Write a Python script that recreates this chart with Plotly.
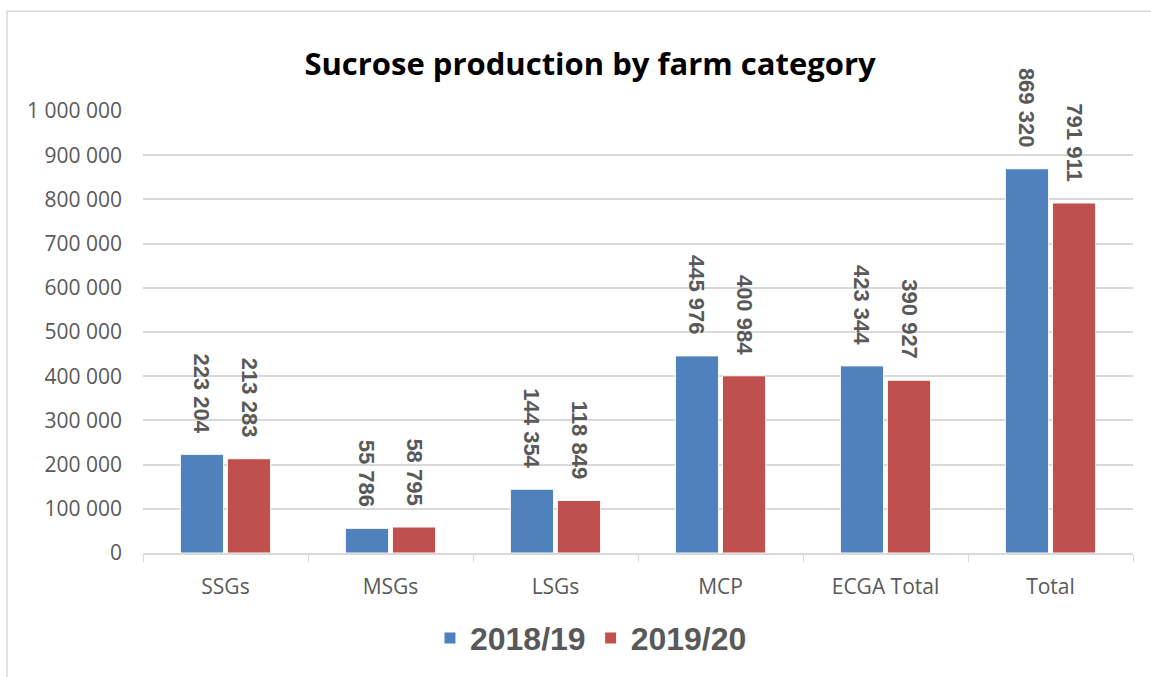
import plotly.graph_objects as go

categories = ["SSGs", "MSGs", "LSGs", "MCP", "ECGA Total", "Total"]
season_2018_19 = [223204, 55786, 144354, 445976, 423344, 869320]
season_2019_20 = [213283, 58795, 118849, 400984, 390927, 791911]
y_ticks = [0, 100000, 200000, 300000, 400000, 500000, 600000, 700000, 800000, 900000, 1000000]


def fmt(v):
    # space as thousands separator; trailing no-break spaces keep the
    # rotated label clear of the bar top
    return f"{v:,}".replace(",", " ") + "\u00a0\u00a0\u00a0"


label_font = dict(family="Liberation Sans, Arial", size=22, color="#595959", weight="bold")

fig = go.Figure()
for name, vals, color in [
    ("2018/19", season_2018_19, "#4F81BD"),
    ("2019/20", season_2019_20, "#C0504D"),
]:
    fig.add_trace(go.Bar(
        x=categories, y=vals, name=name,
        marker=dict(color=color, line=dict(color="white", width=1)),
        text=[fmt(v) for v in vals],
        textposition="outside", textangle=90, constraintext="none",
        textfont=label_font, cliponaxis=False,
    ))

fig.update_layout(
    width=1151, height=677,
    paper_bgcolor="white", plot_bgcolor="white",
    margin=dict(l=143, r=18, t=111, b=123),
    separators=". ",
    barmode="group", bargap=0.43, bargroupgap=0.08,
    title=dict(text="<b>Sucrose production by farm category</b>",
               x=590/1151, xanchor="center", y=0.905, yanchor="middle",
               font=dict(family="Open Sans, Lato, sans-serif", size=31, color="black")),
    legend=dict(orientation="h", x=0.4525, xanchor="center", y=-0.19, yanchor="middle",
                font=dict(family="Liberation Sans, Arial", size=32, color="#595959",
                          weight="bold"),
                itemwidth=30, traceorder="normal"),
    xaxis=dict(showline=True, linecolor="#d9d9d9", linewidth=1.5,
               ticks="outside", tickson="boundaries", ticklen=7, tickcolor="#d9d9d9",
               ticklabelstandoff=14,
               tickfont=dict(family="Open Sans, sans-serif", size=21, color="#595959")),
    yaxis=dict(range=[0, 1000000], tickvals=y_ticks, tickformat=",d",
               showgrid=True, gridcolor="#d9d9d9", gridwidth=1.5, zeroline=False,
               ticks="", ticklabelstandoff=20,
               tickfont=dict(family="Open Sans, sans-serif", size=21, color="#595959")),
    shapes=[dict(type="rect", xref="paper", yref="paper",
                 x0=-136/990, x1=1.05, y0=-0.4, y1=1 + 100/443,
                 line=dict(color="#d9d9d9", width=1.5), fillcolor="rgba(0,0,0,0)")],
)

fig.write_html("out.html")
